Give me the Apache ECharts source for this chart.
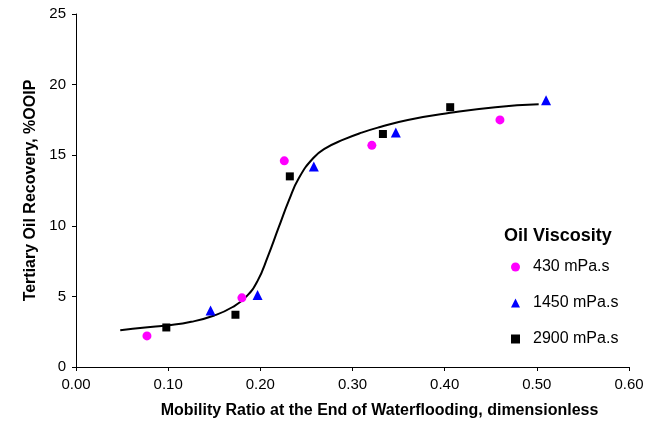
<!DOCTYPE html>
<html><head><meta charset="utf-8">
<script src="https://cdn.jsdelivr.net/npm/echarts@6/dist/echarts.min.js"></script>
<style>html,body{margin:0;padding:0;background:#fff}#c{width:656px;height:428px}</style>
</head><body><div id="c"></div>
<script>
const seriesNames = ['430 mPa.s', '1450 mPa.s', '2900 mPa.s'];
const visc430 = [[0.077, 2.2], [0.180, 4.9], [0.226, 14.6], [0.321, 15.7], [0.460, 17.5]];
const visc1450 = [[0.146, 4.0], [0.197, 5.1], [0.258, 14.2], [0.347, 16.6], [0.510, 18.9]];
const visc2900 = [[0.098, 2.8], [0.173, 3.7], [0.232, 13.5], [0.333, 16.5], [0.406, 18.4]];
const fitCurve = [[0.048, 2.6], [0.075, 2.8], [0.100, 2.95], [0.125, 3.2], [0.150, 3.65], [0.170, 4.25],
  [0.185, 5.0], [0.197, 6.1], [0.208, 7.8], [0.220, 9.9], [0.231, 11.8], [0.242, 13.4], [0.2575, 14.8],
  [0.271, 15.5], [0.290, 16.1], [0.310, 16.6], [0.330, 17.0], [0.360, 17.5], [0.406, 18.0],
  [0.455, 18.4], [0.502, 18.6]];
const xTicks = [0, 0.1, 0.2, 0.3, 0.4, 0.5, 0.6];
const yTicks = [0, 5, 10, 15, 20, 25];
const xTitle = 'Mobility Ratio at the End of Waterflooding, dimensionless';
const yTitle = 'Tertiary Oil Recovery, %OOIP';
const legendTitle = 'Oil Viscosity';

const font = 'Liberation Sans, Arial, sans-serif';
const chart = echarts.init(document.getElementById('c'), null, {renderer: 'canvas'});
chart.setOption({
  animation: false,
  backgroundColor: '#fff',
  textStyle: {fontFamily: font},
  title: {text: legendTitle, left: 504, top: 227, padding: 0,
    textStyle: {fontFamily: font, fontWeight: 'bold', fontSize: 18, color: '#000'}},
  legend: {
    orient: 'vertical', left: 511, top: 259, itemGap: 20, padding: 0,
    data: seriesNames, itemWidth: 9, itemHeight: 9,
    textStyle: {fontFamily: font, fontSize: 16, lineHeight: 16, color: '#000', padding: [0, 0, 0, 8]}
  },
  grid: {left: 76, right: 27, top: 14, bottom: 61},
  xAxis: {
    type: 'value', min: xTicks[0], max: xTicks[xTicks.length - 1], interval: 0.1,
    name: xTitle, nameLocation: 'middle', nameGap: 36,
    nameTextStyle: {fontFamily: font, fontWeight: 'bold', fontSize: 16, color: '#000', padding: [0, 0, 0, 54]},
    axisLine: {lineStyle: {color: '#000', width: 1}},
    axisTick: {show: true, inside: false, length: 4, lineStyle: {color: '#000'}},
    axisLabel: {color: '#000', fontSize: 15, fontFamily: font, margin: 10,
      formatter: v => v.toFixed(2)},
    splitLine: {show: false}
  },
  yAxis: {
    type: 'value', min: yTicks[0], max: yTicks[yTicks.length - 1], interval: 5,
    name: yTitle, nameLocation: 'middle', nameGap: 32,
    nameTextStyle: {fontFamily: font, fontWeight: 'bold', fontSize: 16, color: '#000'},
    axisLine: {show: true, lineStyle: {color: '#000', width: 1}},
    axisTick: {show: true, inside: false, length: 4, lineStyle: {color: '#000'}},
    axisLabel: {color: '#000', fontSize: 15, fontFamily: font, margin: 10},
    splitLine: {show: false}
  },
  series: [
    {name: 'fit', type: 'line', data: fitCurve, smooth: 0.5, showSymbol: false, symbol: 'none',
      lineStyle: {color: '#000', width: 2}, silent: true, z: 1},
    {name: seriesNames[0], type: 'scatter', data: visc430, symbol: 'circle', symbolSize: 9,
      itemStyle: {color: '#ff00ff', opacity: 1}, z: 3},
    {name: seriesNames[1], type: 'scatter', data: visc1450, symbol: 'triangle', symbolSize: 10,
      itemStyle: {color: '#0000ff', opacity: 1}, z: 3},
    {name: seriesNames[2], type: 'scatter', data: visc2900, symbol: 'rect', symbolSize: 8,
      itemStyle: {color: '#000', opacity: 1}, z: 3}
  ]
});
</script></body></html>
